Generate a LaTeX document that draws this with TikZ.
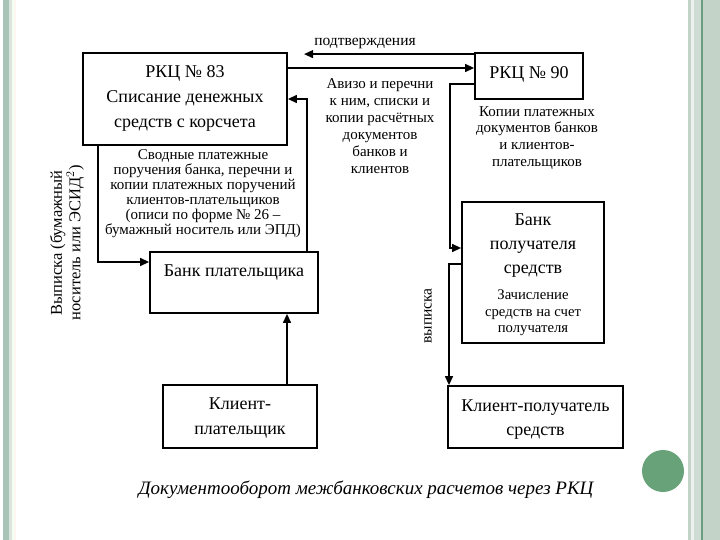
\documentclass[tikz,border=0pt]{standalone}
\usepackage{fontspec}
\setmainfont{Liberation Serif}
\usetikzlibrary{arrows.meta,calc}
\definecolor{frameA}{RGB}{195,211,200}
\definecolor{frameB}{RGB}{168,196,184}
\definecolor{frameC}{RGB}{106,158,128}
\definecolor{dotgreen}{RGB}{104,162,120}
\tikzset{
  box/.style={draw=black, line width=1.8pt, inner sep=0pt},
  arr/.style={line width=1.3pt, -{Triangle[length=9pt,width=8pt]}},
  txt/.style={align=center, inner sep=0pt},
}
\begin{document}
\begin{tikzpicture}[x=1pt,y=-1pt]
\useasboundingbox (0,0) rectangle (720,540);
\fill[white] (0,0) rectangle (720,540);
% slide frame stripes
\fill[frameB] (3,0) rectangle (9,540);
\fill[frameA!60] (9,0) rectangle (12,540);
\fill[green!6] (12,0) rectangle (14,540);
\fill[orange!6] (14,0) rectangle (16,540);
\fill[frameA] (688,0) rectangle (691,540);
\fill[frameA!30] (691,0) rectangle (694,540);
\fill[frameA!80] (694,0) rectangle (701,540);
\fill[frameC] (701,0) rectangle (703,540);
\fill[frameA] (703,0) rectangle (720,540);
\fill[dotgreen] (663,471) circle (21);

% boxes
\node[box, minimum width=204pt, minimum height=92pt] (rkc83) at (185,99) {};
\node[txt, font=\fontsize{18}{25}\selectfont] (t83) at (185,98) {РКЦ № 83\\Списание денежных\\средств с корсчета};
\node[box, minimum width=108pt, minimum height=46pt] (rkc90) at (529,76) {};
\node[txt, font=\fontsize{18}{20}\selectfont] (t90) at (529,74) {РКЦ № 90};
\node[box, minimum width=168pt, minimum height=61pt] (bankp) at (234,282.5) {};
\node[txt, font=\fontsize{18}{20}\selectfont] (tbp) at (234,272) {Банк плательщика};
\node[box, minimum width=154pt, minimum height=63pt] (kp) at (240,416.5) {};
\node[txt, font=\fontsize{18}{25}\selectfont] (tkp) at (240,418) {Клиент-\\плательщик};
\node[box, minimum width=175pt, minimum height=62pt] (kr) at (535.5,417) {};
\node[txt, font=\fontsize{18}{24}\selectfont] (tkr) at (535.5,420) {Клиент-получатель\\средств};
\node[box, minimum width=142pt, minimum height=141pt] (br) at (533,272.5) {};
\node[txt, font=\fontsize{18}{24}\selectfont] (tbr1) at (533,246) {Банк\\получателя\\средств};
\node[txt, font=\fontsize{14.7}{16.5}\selectfont] (tbr2) at (533,313) {Зачисление\\средств на счет\\получателя};

% connectors
\draw[arr] ([yshift=-2pt]rkc90.north west) -- ++(-170pt,0pt) coordinate (confend);
\coordinate (p90in) at ([yshift=8pt]rkc90.west);
\draw[arr] (rkc83.east |- p90in) -- (p90in);
\draw[arr] ([xshift=73pt]bankp.north) |- (rkc83.east);
\draw[arr] ([xshift=-87pt]rkc83.south) |- ([yshift=20.5pt]bankp.west);
\draw[arr] ([xshift=47pt]kp.north) -- ([xshift=47pt]kp.north |- bankp.south);
\draw[arr] ([yshift=-8pt]rkc90.west) -- ++(-24pt,0pt) |- ([yshift=24.5pt]br.west);
\draw[arr] ([yshift=8.5pt]br.west) -| ([xshift=-86.5pt]kr.north);

% labels
\node[txt, font=\fontsize{15.5}{16}\selectfont] (lconf) at (365,44) {подтверждения};
\node[txt, font=\fontsize{15}{17}\selectfont] (lav) at (380,126) {Авизо и перечни\\к ним, списки и\\копии расчётных\\документов\\банков и\\клиентов};
\node[txt, font=\fontsize{15}{16.7}\selectfont] (lkop) at (537,138) {Копии платежных\\документов банков\\и клиентов-\\плательщиков};
\node[txt, font=\fontsize{15}{15}\selectfont] (lsv) at (203,194) {Сводные платежные\\поручения банка, перечни и\\копии платежных поручений\\клиентов-плательщиков\\(описи по форме № 26 –\\бумажный носитель или ЭПД)};
\node[txt, rotate=90, font=\fontsize{15.5}{14}\selectfont] (lvyp) at (428,316) {выписка};
\node[txt, rotate=90, font=\fontsize{16.5}{15}\selectfont] (lvyp2) at (67,243) {Выписка (бумажный\\носитель или ЭСИД$^2$)};
\node[txt, font=\itshape\fontsize{19}{22}\selectfont] (cap) at (366,490) {Документооборот межбанковских расчетов через РКЦ};
\end{tikzpicture}
\end{document}
